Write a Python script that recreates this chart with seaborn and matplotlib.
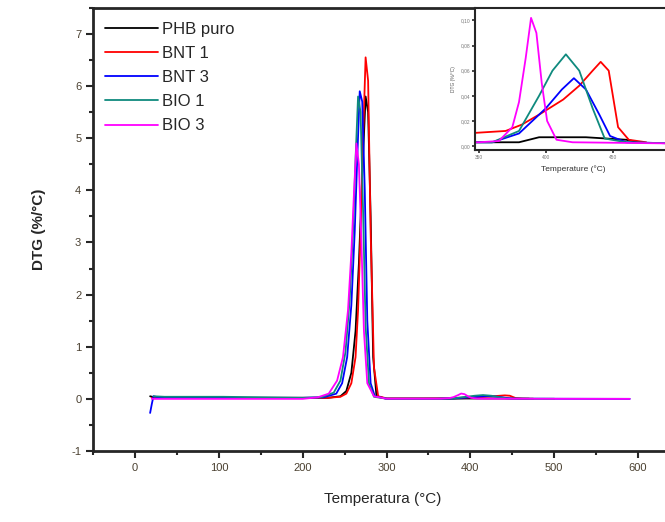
import numpy as np
import pandas as pd
import seaborn as sns
import matplotlib
matplotlib.use("Agg")
import matplotlib.pyplot as plt
from matplotlib.ticker import MultipleLocator, FuncFormatter

# dados (T em °C, DTG em %/°C)
t_phb = [18, 25, 60, 100, 160, 200, 230, 245, 252, 258, 263, 267, 271, 275, 278, 281, 284, 288, 300, 350, 380, 395, 430, 460, 470]
dtg_phb = [0.05, 0.02, 0.02, 0.02, 0.02, 0.02, 0.02, 0.05, 0.15, 0.5, 1.3, 2.6, 4.3, 5.8, 5.5, 3.5, 0.8, 0.05, 0.003, 0.003, 0.003, 0.007, 0.007, 0.005, 0.003]

t_bnt1 = [20, 30, 100, 200, 230, 245, 252, 258, 263, 266, 269, 272, 275, 278, 281, 285, 290, 300, 340, 370, 382, 395, 413, 425, 435, 441, 447, 454, 462, 475]
dtg_bnt1 = [0.02, 0.02, 0.02, 0.02, 0.02, 0.04, 0.1, 0.3, 0.8, 1.7, 3.2, 5.0, 6.55, 6.1, 3.2, 0.6, 0.05, 0.01, 0.01, 0.012, 0.017, 0.025, 0.037, 0.048, 0.06, 0.067, 0.06, 0.015, 0.005, 0.003]

t_bnt3 = [18, 20, 22, 30, 100, 200, 225, 240, 247, 253, 258, 262, 265, 268, 271, 274, 277, 281, 286, 300, 360, 380, 400, 412, 421, 430, 440, 448, 460, 500, 590]
dtg_bnt3 = [-0.27, -0.1, 0.05, 0.02, 0.02, 0.02, 0.03, 0.1, 0.3, 0.8, 1.8, 3.2, 4.6, 5.9, 5.7, 4.0, 1.5, 0.3, 0.05, 0.003, 0.003, 0.01, 0.03, 0.045, 0.054, 0.045, 0.025, 0.008, 0.003, 0.002, 0.0]

t_bio1 = [22, 35, 105, 200, 222, 237, 245, 251, 256, 260, 263, 266, 269, 272, 275, 279, 285, 300, 360, 380, 395, 405, 415, 425, 435, 444, 460, 500]
dtg_bio1 = [0.05, 0.04, 0.04, 0.02, 0.03, 0.12, 0.35, 0.9, 1.9, 3.2, 4.6, 5.8, 5.5, 3.6, 1.4, 0.3, 0.04, 0.003, 0.003, 0.012, 0.04, 0.06, 0.073, 0.06, 0.03, 0.006, 0.003, 0.002]

t_bio3 = [20, 30, 100, 200, 218, 231, 241, 248, 254, 258, 261, 264, 267, 270, 273, 277, 285, 300, 350, 365, 375, 380, 385, 389, 393, 397, 401, 408, 420, 500, 590]
dtg_bio3 = [0.0, 0.0, 0.0, 0.0, 0.03, 0.1, 0.35, 0.8, 1.7, 2.8, 3.9, 4.9, 4.5, 3.0, 1.3, 0.3, 0.05, 0.003, 0.003, 0.004, 0.015, 0.035, 0.07, 0.102, 0.09, 0.05, 0.02, 0.005, 0.003, 0.002, 0.0]

amostras = ['PHB puro', 'BNT 1', 'BNT 3', 'BIO 1', 'BIO 3']
cores = ['#000000', '#ff0000', '#0000ff', '#0f8a7e', '#ff00ff']

partes = []
for nome, t, d in zip(amostras,
                      [t_phb, t_bnt1, t_bnt3, t_bio1, t_bio3],
                      [dtg_phb, dtg_bnt1, dtg_bnt3, dtg_bio1, dtg_bio3]):
    partes.append(pd.DataFrame({'T': t, 'DTG': d, 'amostra': nome}))
data = pd.concat(partes, ignore_index=True)

sns.set_style("ticks")
plt.rcParams['font.family'] = ['Liberation Sans', 'DejaVu Sans']
plt.rcParams['axes.unicode_minus'] = False

fig = plt.figure(figsize=(6.65, 5.22), dpi=100)
ax = fig.add_axes([0.14, 0.136, 0.87, 0.849])

sns.lineplot(data=data, x='T', y='DTG', hue='amostra', hue_order=amostras,
             palette=cores, estimator=None, sort=False, linewidth=1.3, ax=ax)

ax.set_xlim(-50, 640)
ax.set_ylim(-1, 7.5)
ax.xaxis.set_major_locator(MultipleLocator(100))
ax.xaxis.set_minor_locator(MultipleLocator(50))
ax.yaxis.set_major_locator(MultipleLocator(1))
ax.yaxis.set_minor_locator(MultipleLocator(0.5))
ax.tick_params(which='major', length=5, width=1.5, labelsize=8, labelcolor='#4a4030', direction='out')
ax.tick_params(which='minor', length=3, width=1.5, direction='out')
for s in ax.spines.values():
    s.set_linewidth(2)
    s.set_visible(True)

ax.set_xlabel('Temperatura (°C)', fontsize=11, labelpad=14)
ax.set_ylabel('DTG (%/°C)', fontsize=11, fontweight='bold', labelpad=18)

leg = ax.legend(loc='upper left', frameon=False, fontsize=12, handlelength=3.2,
                handletextpad=0.25, labelspacing=0.55, borderaxespad=0.3,
                bbox_to_anchor=(0.0, 0.995))
for line in leg.get_lines():
    line.set_linewidth(1.3)

# inserto
axin = fig.add_axes([0.714, 0.713, 0.296, 0.272])
sns.lineplot(data=data, x='T', y='DTG', hue='amostra', hue_order=amostras,
             palette=cores, estimator=None, sort=False, linewidth=1.3, ax=axin,
             legend=False)
axin.set_xlim(347, 494)
axin.set_ylim(-0.003, 0.11)
axin.xaxis.set_major_locator(MultipleLocator(50))
axin.yaxis.set_major_locator(MultipleLocator(0.02))
axin.yaxis.set_major_formatter(FuncFormatter(lambda v, p: f'{v:.2f}'.replace('.', ',')))
axin.tick_params(length=2, width=1.2, labelsize=3.5, labelcolor='#777777', direction='out', pad=1.5)
for s in axin.spines.values():
    s.set_linewidth(1.5)
axin.set_xlabel('Temperature (°C)', fontsize=6, labelpad=4, color='#333333')
axin.set_ylabel('DTG (%/°C)', fontsize=3.5, labelpad=3, color='#555555')

fig.savefig('out.png', dpi=100)
